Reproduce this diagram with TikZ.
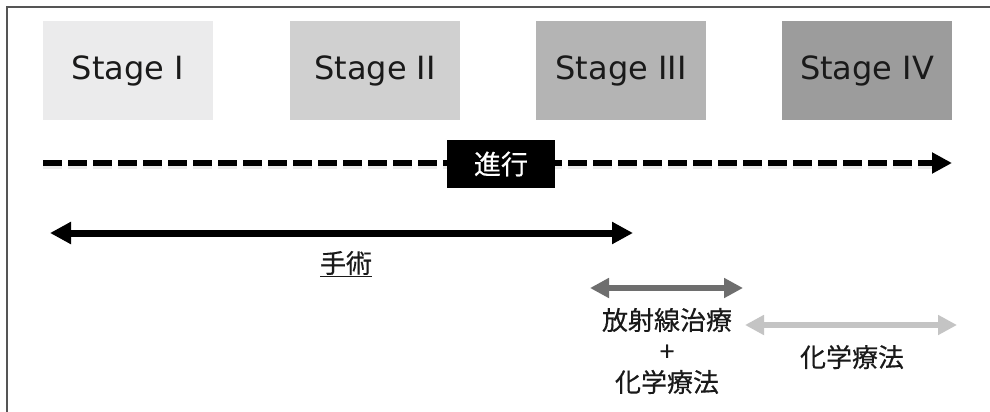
\documentclass[tikz,border=0pt]{standalone}
\usepackage{fontspec}
\setmainfont{DejaVu Sans}
\newfontfamily\jpfont[FakeBold=0.4]{Noto Sans CJK JP}
\usetikzlibrary{arrows.meta,calc}
\definecolor{frameC}{HTML}{555555}
\definecolor{sA}{HTML}{EBEBEC}
\definecolor{sB}{HTML}{D0D0D0}
\definecolor{sC}{HTML}{B4B4B4}
\definecolor{sD}{HTML}{9C9C9C}
\definecolor{txt}{HTML}{1A1A1A}
\definecolor{radC}{HTML}{6E6E6E}
\definecolor{chemC}{HTML}{C4C4C4}
\tikzset{
  stagebox/.style={minimum width=170pt, minimum height=99pt, inner sep=0pt,
    font=\fontsize{32}{36}\selectfont, text=txt},
  jplabel/.style={font=\jpfont\fontsize{26}{31}\selectfont, text=txt, inner sep=0pt, align=center},
  bigarrow/.style={line width=7pt, {Triangle[length=21pt,width=21pt]}-{Triangle[length=21pt,width=21pt]}},
  shadowline/.style={line width=8pt, black, opacity=0.08}
}
\begin{document}
\begin{tikzpicture}[x=1pt,y=-1pt]
\useasboundingbox (0,0) rectangle (990,412);
\fill[white] (0,0) rectangle (990,412);
% frame
\draw[frameC, line width=2pt] (7,412) -- (7,7) -- (990,7);
% stages
\node[stagebox, fill=sA] (s1) at (128,70.5) {Stage I};
\node[stagebox, fill=sB] (s2) at (375,70.5) {Stage II};
\node[stagebox, fill=sC] (s3) at (621,70.5) {Stage III};
\node[stagebox, fill=sD] (s4) at (867,70.5) {Stage IV};
% progress dashed arrow
\coordinate (pA) at (43,163);
\coordinate (pB) at (952,163);
\draw[shadowline, dash pattern=on 19pt off 6pt] ($(pA)+(0,2)$) -- ($(pB)+(-18,2)$);
\draw[line width=6pt, black, dash pattern=on 19pt off 6pt, -{Triangle[length=20pt,width=20pt]}] (pA) -- (pB);
\node[fill=black, minimum width=108pt, minimum height=48pt, inner sep=0pt,
  text=white, font=\jpfont\fontsize{27}{30}\selectfont] (prog) at (501,164) {進行};
% surgery
\coordinate (opA) at (50,233);
\coordinate (opB) at (633,233);
\draw[bigarrow, black] (opA) -- (opB);
\node[jplabel] (op) at (346,264) {\underline{手術}};
% radiation + chemo
\coordinate (rA) at (590,288);
\coordinate (rB) at (743,288);
\draw[line width=6pt, radC, {Triangle[length=19pt,width=19pt]}-{Triangle[length=19pt,width=19pt]}] (rA) -- (rB);
\node[jplabel] (rad) at (667,351) {放射線治療\\+\\化学療法};
% chemo
\coordinate (cA) at (745,325);
\coordinate (cB) at (957,325);
\draw[line width=6pt, chemC, {Triangle[length=19pt,width=19pt]}-{Triangle[length=19pt,width=19pt]}] (cA) -- (cB);
\node[jplabel] (chem) at (852,357) {化学療法};
\end{tikzpicture}
\end{document}
